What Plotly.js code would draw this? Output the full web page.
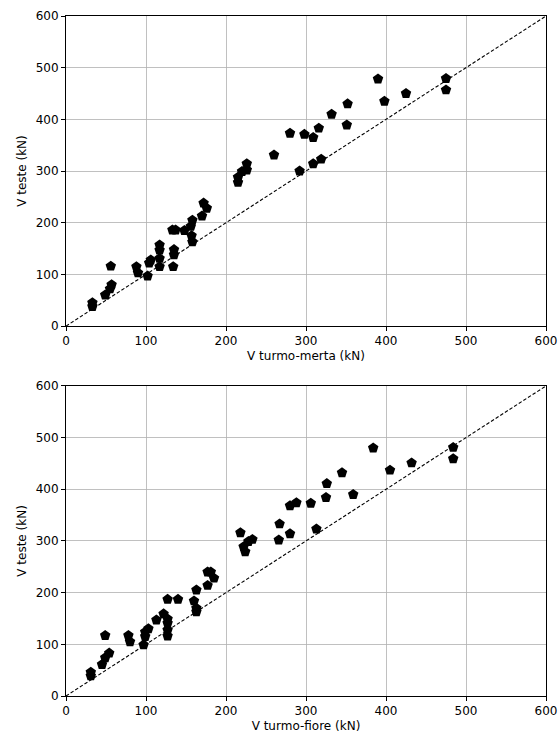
<!DOCTYPE html>
<html>
<head>
<meta charset="utf-8">
<script src="https://cdn.plot.ly/plotly-3.0.1.min.js"></script>
<style>
  html, body { margin: 0; padding: 0; background: #fff; }
  #chart { width: 558px; height: 735px; }
</style>
</head>
<body>
<div id="chart"></div>
<script>
// Shear capacity: calculated (turmo-merta / turmo-fiore) vs tested, kN
const merta_x = [33, 33, 49, 56, 57, 55, 88, 90, 102, 104, 106, 117, 117, 117, 117,
  133, 137, 135, 135, 134, 148, 158, 156, 157, 158, 172, 176, 170,
  215, 215, 220, 226, 226, 260, 280, 292, 298, 309, 309, 316, 319,
  332, 351, 352, 390, 398, 425, 475, 475];
const merta_y = [45, 38, 60, 116, 80, 72, 115, 103, 97, 122, 128, 157, 147, 131, 115,
  186, 186, 148, 138, 115, 185, 205, 193, 175, 163, 238, 228, 213,
  288, 278, 299, 314, 302, 331, 373, 300, 371, 365, 314, 383, 323,
  410, 389, 430, 478, 435, 450, 479, 457];

const fiore_x = [31, 31, 45, 49, 49, 54, 78, 80, 97, 99, 103, 99, 113, 122,
  127, 127, 127, 127, 127, 140, 160, 163, 163, 163, 177, 181, 185, 177,
  218, 222, 224, 228, 233, 267, 266, 280, 280, 288, 306, 313, 325, 326,
  345, 359, 384, 405, 432, 484, 484];
const fiore_y = [46, 39, 61, 117, 74, 83, 117, 105, 99, 124, 130, 115, 147, 159,
  149, 141, 128, 116, 187, 187, 184, 205, 170, 163, 240, 240, 228, 214,
  316, 289, 279, 299, 303, 333, 302, 368, 314, 374, 373, 323, 384, 411,
  432, 390, 480, 437, 451, 481, 459];

const tickVals = [0, 100, 200, 300, 400, 500, 600];
const diag = [0, 600];

const markerStyle = { symbol: 'pentagon', size: 11, color: '#000', line: { width: 0 } };
const diagStyle = { color: '#000', width: 1.1, dash: '3.5px,2px' };

const traces = [
  { x: diag, y: diag, xaxis: 'x', yaxis: 'y', mode: 'lines', line: diagStyle, hoverinfo: 'skip' },
  { x: merta_x, y: merta_y, xaxis: 'x', yaxis: 'y', mode: 'markers', marker: markerStyle },
  { x: diag, y: diag, xaxis: 'x2', yaxis: 'y2', mode: 'lines', line: diagStyle, hoverinfo: 'skip' },
  { x: fiore_x, y: fiore_y, xaxis: 'x2', yaxis: 'y2', mode: 'markers', marker: markerStyle }
];

const fontFam = 'DejaVu Sans, sans-serif';
function axis(extra) {
  return Object.assign({
    range: [0, 600],
    tickvals: tickVals,
    ticktext: tickVals.map(String),
    showgrid: true,
    gridcolor: '#b0b0b0',
    gridwidth: 0.8,
    zeroline: false,
    showline: true,
    linecolor: '#000',
    linewidth: 1,
    mirror: true,
    ticks: 'outside',
    ticklen: 4,
    tickwidth: 1,
    tickcolor: '#000',
    tickfont: { family: fontFam, size: 12, color: '#000' },
    fixedrange: true
  }, extra);
}

const layout = {
  width: 558,
  height: 735,
  margin: { l: 66, r: 12, t: 16, b: 39 },
  paper_bgcolor: '#fff',
  plot_bgcolor: '#fff',
  showlegend: false,
  font: { family: fontFam, color: '#000' },
  xaxis: axis({ domain: [0, 1], anchor: 'y',
    title: { text: 'V turmo-merta (kN)', font: { family: fontFam, size: 12 }, standoff: 4 } }),
  yaxis: axis({ domain: [0.544, 1], anchor: 'x',
    title: { text: 'V teste (kN)', font: { family: fontFam, size: 12 }, standoff: 6 } }),
  xaxis2: axis({ domain: [0, 1], anchor: 'y2',
    title: { text: 'V turmo-fiore (kN)', font: { family: fontFam, size: 12 }, standoff: 4 } }),
  yaxis2: axis({ domain: [0, 0.456], anchor: 'x2',
    title: { text: 'V teste (kN)', font: { family: fontFam, size: 12 }, standoff: 6 } })
};

Plotly.newPlot('chart', traces, layout, { staticPlot: true, displayModeBar: false });
</script>
</body>
</html>
